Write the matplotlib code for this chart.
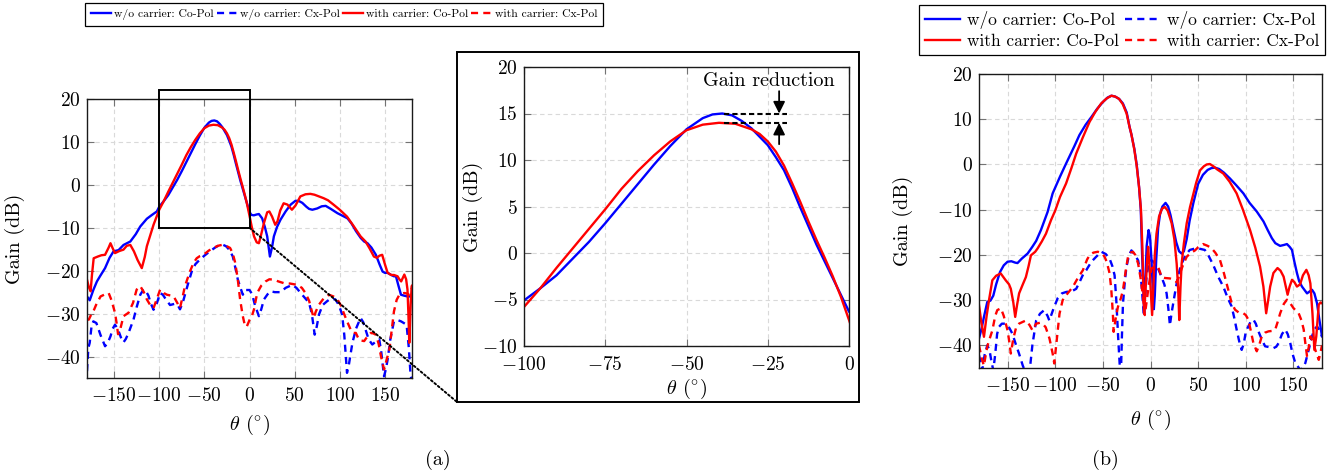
import numpy as np
import matplotlib
matplotlib.use("Agg")
import matplotlib.pyplot as plt
from matplotlib.patches import Rectangle, ConnectionPatch
from matplotlib.lines import Line2D

plt.rcParams["font.family"] = ["cmr10"]
plt.rcParams["mathtext.fontset"] = "cm"
plt.rcParams["axes.formatter.use_mathtext"] = True

# ---------------------------------------------------------------- data (a)
a_co_wo_theta = [-180, -177, -173, -169, -165.6, -160, -155, -150.6, -145, -139.5, -132, -126, -121,
                 -113.7, -108, -102.6, -100, -95, -90, -85, -80, -75, -70, -65, -60, -55, -50, -45,
                 -42, -39, -36, -33, -30, -27.5, -25, -22.5, -20, -17.5, -15, -12.5, -10, -7.5, -5,
                 -2.5, 0, 2, 4.8, 8, 10.4, 14, 17, 19.6, 22.6, 25, 27, 30.5, 34.4, 40, 45.6, 51, 55,
                 58.5, 63, 66, 69.6, 75, 80, 84.4, 90, 97.4, 103, 108.5, 113, 118, 123.3, 127, 130.7,
                 135, 140, 144, 147.4, 150, 153, 157, 160, 162.2, 165, 167.8, 171, 175, 180]
a_co_wo_gain = [-26.0, -26.9, -24.5, -22.5, -21.3, -19.4, -17.0, -15.5, -15.2, -14.0, -13.2, -11.5, -9.7,
                -7.9, -7.0, -6.2, -5.1, -3.8, -2.4, -0.6, 1.2, 3.2, 5.3, 7.4, 9.5, 11.5, 13.3, 14.5,
                14.9, 15.0, 14.8, 14.2, 13.4, 12.5, 11.6, 10.3, 8.9, 7.0, 4.9, 2.9, 0.9, -0.9, -2.7,
                -4.5, -6.3, -7.0, -7.1, -6.9, -6.8, -7.8, -9.8, -12.0, -16.7, -14.5, -12.0, -9.8, -8.1,
                -6.2, -4.6, -3.7, -3.8, -4.2, -5.1, -5.6, -5.8, -5.5, -5.0, -4.9, -5.6, -6.6, -7.2,
                -7.8, -9.0, -10.8, -12.4, -13.2, -13.6, -14.6, -16.3, -18.5, -20.2, -20.5, -20.5,
                -21.0, -21.3, -21.3, -23.5, -25.6, -25.8, -26.0, -26.0]

a_co_w_theta = [-180, -178, -176, -174.5, -172.6, -168, -164, -160, -156, -154, -151.5, -149, -144,
                -139.6, -136, -132, -128, -124, -119.3, -116, -113.7, -110, -106.3, -102.5, -100, -95,
                -90, -85, -80, -75, -70, -65, -60, -55, -50, -45, -40, -35, -30, -27.5, -25, -22.5,
                -20, -17.5, -15, -12.5, -10, -7.5, -5, -2.5, 0, 2.5, 5, 8, 10.4, 13, 16, 19.6, 22, 25,
                28.5, 31, 34, 37.8, 42, 47, 51, 56.3, 62, 67.4, 72, 77, 82, 87, 93, 100, 108, 115, 123,
                128.5, 133, 137.8, 141, 144, 147, 150, 153, 157, 160, 164, 166, 168, 171.5, 173.5, 175,
                176, 177, 178.5, 179.6, 180]
a_co_w_gain = [-22.1, -23.8, -24.8, -21.0, -17.1, -16.7, -16.4, -16.3, -14.6, -13.6, -14.8, -15.9, -15.4,
               -15.1, -14.2, -14.0, -15.5, -17.5, -19.4, -16.8, -14.3, -11.8, -9.3, -7.2, -5.8, -3.8,
               -1.6, 0.5, 2.6, 4.7, 6.9, 8.8, 10.5, 12.0, 13.2, 13.8, 14.0, 13.9, 13.3, 12.8, 12.0, 10.9,
               9.4, 7.5, 5.5, 3.4, 1.4, -0.5, -2.5, -4.7, -7.2, -9.8, -12.0, -13.4, -13.6, -11.5, -8.9,
               -6.4, -6.2, -7.4, -9.3, -8.5, -6.0, -4.3, -4.6, -5.8, -4.8, -2.7, -2.2, -2.1, -2.3, -2.7,
               -3.1, -3.6, -4.6, -5.8, -7.4, -9.5, -12.0, -13.2, -14.8, -16.7, -17.0, -16.5, -16.3,
               -18.5, -20.5, -21.0, -21.0, -21.3, -22.0, -22.5, -20.9, -22.0, -24.4, -30.0, -36.8,
               -28.0, -23.6, -23.5]

a_cx_wo_theta = [-180, -178.5, -177, -175, -173, -169.6, -165, -160, -157, -154, -151.5, -149, -146, -142,
                 -139.6, -137, -134, -128.5, -125, -121, -118, -115.7, -112, -109, -106.3, -102.5, -99,
                 -96, -93.5, -88, -82.6, -79, -77, -74, -71.5, -68, -64, -60, -55, -50, -44, -38, -33,
                 -29, -26, -22, -18.5, -15.5, -13, -10, -7.4, -5, 0, 3, 6, 10.4, 13, 16, 20, 23.3, 28,
                 34.4, 40, 47.4, 52, 56.7, 62, 66, 69, 72.2, 74.5, 77, 81, 86, 90, 95.2, 99, 102.6, 105,
                 108, 110, 114, 118, 123, 126, 128.5, 132, 136, 140, 143.7, 146, 149, 151, 153, 156, 160,
                 164, 167.8, 171, 174, 176.5, 178.5, 180]
a_cx_wo_gain = [-43.4, -38.0, -36.8, -33.0, -31.8, -32.2, -35.0, -37.6, -36.8, -35.3, -33.5, -32.6, -33.5,
                -35.8, -36.7, -35.9, -34.5, -31.4, -28.5, -25.6, -24.6, -24.4, -25.8, -27.8, -29.1,
                -27.5, -25.2, -25.6, -26.4, -28.0, -27.7, -28.2, -29.0, -27.5, -25.6, -23.0, -20.2,
                -18.5, -17.4, -16.5, -15.5, -14.6, -14.0, -14.0, -14.3, -15.2, -16.7, -19.5, -22.0,
                -24.0, -25.6, -24.5, -24.5, -25.5, -28.0, -30.6, -29.0, -26.7, -25.5, -24.8, -25.0,
                -25.0, -24.0, -23.3, -24.0, -25.2, -26.5, -27.5, -30.0, -34.9, -33.0, -30.2, -28.0,
                -27.1, -26.5, -26.7, -28.0, -30.2, -35.0, -43.8, -42.0, -36.8, -33.5, -31.0, -32.0,
                -33.7, -36.0, -37.2, -36.5, -36.0, -39.0, -44.6, -43.0, -40.7, -36.0, -31.8, -31.5,
                -31.8, -32.2, -32.6, -38.0, -44.6, -45.5]

a_cx_w_theta = [-180, -178, -176, -173, -170, -165, -160, -156, -153, -149, -147, -145.6, -143, -139.6,
                -134, -129, -125, -121, -117, -113.7, -110, -106.3, -102.5, -99, -95, -91.5, -87, -84,
                -80, -77, -74, -71.5, -66, -62, -58.5, -55, -51, -45, -40, -35, -30.7, -26, -21.5,
                -18.5, -15.9, -13, -10.4, -7.5, -5, -3, 0, 2.6, 5, 8.5, 13, 17.8, 22, 27, 32, 38, 45,
                53, 58, 62, 66, 68.5, 71, 73.5, 77, 82, 88, 93, 97.4, 101, 105, 108.5, 112, 115, 117.8,
                120, 122, 127, 130, 134.4, 137, 140, 143, 145.6, 149, 151, 155, 158, 160, 163, 166, 169,
                171.5, 174, 177, 180]
a_cx_w_gain = [-31.4, -31.4, -30.5, -29.5, -28.0, -26.0, -25.5, -25.2, -26.8, -29.8, -32.5, -34.8, -33.5,
               -30.6, -29.8, -27.5, -24.4, -23.6, -25.0, -26.7, -28.0, -28.7, -26.5, -24.4, -25.2,
               -25.6, -25.8, -26.0, -27.5, -28.7, -26.0, -23.6, -20.2, -18.2, -17.1, -16.6, -16.3,
               -15.3, -14.7, -14.2, -14.0, -14.2, -14.7, -16.0, -18.1, -22.0, -26.7, -30.5, -32.9,
               -33.0, -31.5, -30.6, -29.0, -25.2, -23.5, -22.5, -22.0, -22.1, -22.5, -22.9, -23.0,
               -23.3, -24.0, -25.2, -27.0, -29.0, -31.0, -29.5, -27.9, -26.5, -25.6, -26.0, -26.7,
               -28.0, -30.2, -32.0, -33.7, -34.5, -34.5, -35.5, -36.2, -36.4, -35.5, -34.5, -34.6,
               -34.9, -37.0, -39.9, -43.0, -41.5, -38.3, -33.0, -29.5, -26.8, -25.6, -25.3, -25.2,
               -25.3, -25.6, -24.0]

# ---------------------------------------------------------------- data (b)
b_co_wo_theta = [-180, -177, -174.8, -171.3, -168, -165, -162, -158, -154, -150, -146, -142, -139.6, -135,
                 -129, -124, -120, -115, -108, -102.7, -95, -88.6, -80, -74.6, -68, -62, -56, -50, -45,
                 -41, -37, -33, -29, -25, -22, -20, -17, -14.5, -12, -10.2, -8.8, -7.5, -6.7, -5.5, -4,
                 -2, -0.5, 1, 2.5, 3.5, 4.5, 6, 8, 10, 12.5, 15.8, 18.5, 21, 24, 27, 30, 32.7, 35, 38,
                 41, 45, 50, 55, 60, 64, 67.6, 72, 77, 83.4, 90, 97.5, 104, 111.5, 118.6, 123, 127.4,
                 131, 136, 140, 143.2, 146, 148.5, 151, 153.7, 156, 159, 164.3, 169.5, 172, 174.8, 177,
                 180]
b_co_wo_gain = [-38.5, -36.0, -33.7, -30.4, -30.1, -29.0, -26.5, -23.8, -22.3, -21.5, -21.4, -21.7, -21.8,
                -20.8, -19.7, -18.2, -16.9, -14.5, -10.5, -6.4, -2.7, 0.2, 4.0, 6.5, 8.8, 10.5, 12.3,
                13.8, 14.8, 15.2, 15.0, 14.5, 13.5, 11.5, 8.3, 6.6, 3.5, 0.0, -5.0, -10.0, -20.0, -27.0,
                -33.0, -26.0, -18.0, -14.5, -16.0, -21.0, -28.0, -32.0, -29.0, -21.0, -14.0, -11.0,
                -9.3, -8.5, -9.3, -11.2, -14.2, -17.2, -19.2, -19.7, -19.2, -16.5, -12.5, -8.5, -4.3,
                -2.3, -1.2, -0.8, -0.7, -1.0, -1.8, -3.1, -4.6, -6.4, -8.5, -10.4, -12.6, -14.5, -16.3,
                -17.4, -18.0, -17.8, -17.6, -18.2, -18.9, -21.5, -24.0, -25.8, -27.0, -28.5, -27.7,
                -28.5, -30.7, -34.0, -38.0]

b_co_w_theta = [-180, -177.5, -174.8, -172, -169.5, -166, -162, -157.2, -152, -148.5, -146.6, -144, -142,
                -140, -137.9, -134, -130.8, -128, -125.5, -121, -118.6, -114, -109.7, -104.4, -100, -95,
                -88.6, -83, -78, -71, -64, -58, -51.7, -46, -41, -37, -33, -29, -25, -22, -20, -17,
                -14.5, -12, -10, -8.6, -7.6, -6.7, -5, -3.5, -2.5, -1.2, 0, 1.7, 3, 4.5, 6.3, 9, 12,
                15.1, 18, 20, 22.2, 25, 27.5, 29.1, 30.2, 31.5, 32.7, 35, 38, 41.5, 45, 48, 52, 56, 59,
                62.3, 66, 70, 76.4, 83, 90.4, 97, 104.5, 110, 115, 118.5, 121.4, 123.5, 125.6, 129,
                133.3, 136.5, 139.7, 142, 143.9, 146, 148.5, 151, 153.7, 157, 160, 163.6, 166, 167.8,
                170, 172, 174, 176.6, 178.5, 180]
b_co_w_gain = [-31.1, -35.0, -38.1, -33.5, -30.0, -25.6, -24.6, -24.1, -25.6, -26.5, -27.5, -30.5, -33.7,
               -31.0, -28.5, -26.5, -24.9, -22.5, -20.1, -19.3, -18.6, -17.0, -15.3, -12.3, -10.2, -7.2,
               -4.2, -0.8, 2.4, 6.0, 9.4, 11.6, 13.5, 14.6, 15.2, 15.0, 14.5, 13.3, 11.2, 8.3, 6.6,
               3.3, -0.3, -5.0, -10.0, -18.0, -26.3, -33.0, -27.0, -21.0, -18.2, -22.0, -27.0, -33.3,
               -27.0, -20.0, -15.3, -11.5, -9.8, -9.4, -10.2, -11.5, -13.0, -16.5, -22.0, -27.8,
               -34.4, -27.0, -21.9, -17.5, -13.0, -9.4, -6.5, -4.0, -1.3, -0.4, 0.0, 0.1, -0.4, -1.1,
               -2.0, -3.8, -6.4, -10.0, -14.5, -18.4, -22.6, -27.0, -32.9, -30.0, -27.0, -24.0, -22.9,
               -23.5, -24.8, -27.0, -28.8, -27.0, -25.5, -26.0, -27.0, -26.5, -24.5, -23.3, -24.5,
               -26.3, -33.0, -41.0, -38.0, -31.0, -30.5, -30.7]

b_cx_wo_theta = [-180, -178, -176.6, -174, -171.3, -169, -167, -165, -163, -161, -159, -156, -152, -148,
                 -145, -141, -138, -134, -131, -127, -124, -120, -116, -111.5, -108, -106.2, -102,
                 -97.5, -93, -88.6, -84, -81.5, -78, -74, -70.5, -67.5, -62, -57, -51.7, -47, -43, -40,
                 -37.7, -35.9, -34, -32.4, -31, -30, -28.9, -27, -25.3, -22.5, -20, -17, -13, -11, -9.5,
                 -7.1, -5.5, -4.2, -2, -0.7, 2, 4.5, 8, 11.6, 14.5, 16.9, 18.8, 20.4, 22, 25.6, 29,
                 32.7, 37, 41.2, 48.2, 53, 57, 61, 65.8, 71, 76.4, 81, 85.2, 88, 90.4, 93, 95.7, 98,
                 100, 102.7, 105, 108, 110.5, 113.3, 117, 120.3, 125, 129.1, 132, 134.4, 138, 141.4,
                 144, 146.7, 149, 152, 157.2, 160, 162.5, 166, 169.5, 172, 174.8, 177, 180]
b_cx_wo_gain = [-42.2, -44.0, -45.5, -42.0, -40.0, -41.0, -43.5, -45.5, -42.0, -37.5, -35.9, -35.2, -35.2,
                -36.2, -37.4, -40.0, -41.8, -44.5, -46.0, -46.0, -40.0, -34.5, -33.0, -32.2, -33.5,
                -34.5, -32.0, -29.6, -28.5, -28.2, -28.0, -27.9, -27.5, -25.8, -24.2, -23.4, -21.5,
                -20.4, -19.3, -19.8, -20.8, -22.5, -24.5, -30.0, -38.0, -44.0, -46.0, -38.0, -30.8,
                -26.0, -22.7, -20.0, -19.0, -19.8, -21.2, -23.5, -26.3, -33.0, -29.0, -24.9, -22.0,
                -21.2, -21.3, -21.9, -23.0, -24.9, -26.5, -28.5, -32.0, -35.6, -33.0, -28.5, -24.5,
                -21.9, -20.0, -18.9, -18.5, -18.7, -18.9, -20.2, -22.2, -24.8, -27.0, -29.5, -31.4,
                -34.0, -36.5, -39.0, -41.0, -39.5, -37.0, -35.8, -34.8, -34.3, -35.2, -36.9, -38.8,
                -40.2, -40.4, -40.6, -40.3, -39.5, -37.5, -36.5, -37.5, -39.5, -41.8, -43.9, -45.4,
                -45.0, -43.9, -41.0, -38.0, -36.5, -35.8, -36.5, -38.0]

b_cx_w_theta = [-180, -177, -174.8, -172.5, -171, -168, -166, -163, -160.8, -157, -154, -150, -148,
                -146.6, -144, -141, -138, -134, -130.8, -127, -123.8, -120, -116, -113.3, -110, -106,
                -102.7, -101, -99, -95.5, -92.2, -87, -81.6, -76, -71, -66.5, -64, -60, -55.3, -51,
                -48.2, -46, -43, -41.2, -39.5, -38.7, -36.5, -34.2, -31, -28.9, -26, -23.6, -21, -18.4,
                -16, -13, -10.5, -7.8, -6, -4.5, -2.5, -0.5, 1.1, 4, 8, 10, 11.6, 15, 20.4, 24, 27.4,
                29, 30.9, 34, 38, 42, 46.7, 50, 55.3, 60, 64, 68, 72.9, 77, 81.6, 85, 88.7, 93, 97.5,
                100, 102.7, 105.5, 108, 111.5, 114, 116.8, 120, 123.8, 127.5, 130.9, 133.5, 136.1, 140,
                143.2, 147, 150.2, 155.5, 158.5, 160.8, 162.5, 164.3, 166, 167.8, 170, 173, 176.6,
                178.5, 180]
b_cx_w_gain = [-40.0, -43.0, -44.5, -41.5, -40.0, -38.0, -36.7, -33.5, -32.2, -31.8, -33.5, -36.7, -39.5,
               -41.8, -38.5, -36.0, -35.2, -34.8, -34.5, -35.5, -36.7, -35.2, -35.0, -35.2, -36.0,
               -38.5, -41.8, -44.0, -40.0, -33.0, -30.0, -28.5, -27.1, -25.0, -23.4, -21.0, -20.1,
               -19.5, -19.3, -19.6, -20.4, -21.5, -24.0, -27.5, -33.0, -37.0, -34.0, -31.5, -29.5,
               -27.8, -23.5, -20.4, -19.5, -19.3, -20.0, -21.9, -25.0, -29.3, -33.3, -31.0, -27.8,
               -25.0, -23.0, -22.6, -22.7, -23.8, -24.9, -25.1, -25.2, -25.5, -26.0, -25.3, -24.1,
               -22.3, -20.4, -19.6, -19.0, -18.3, -17.6, -18.0, -18.5, -19.5, -21.1, -24.0, -27.7,
               -30.5, -32.1, -32.8, -32.9, -33.3, -34.3, -37.0, -39.5, -41.3, -40.0, -38.0, -37.2,
               -36.9, -36.8, -36.5, -34.8, -32.9, -30.8, -29.9, -30.8, -31.8, -32.9, -34.5, -36.5,
               -39.5, -42.4, -40.5, -38.0, -39.0, -41.0, -43.2, -41.5, -40.0]

labels = ["w/o carrier: Co-Pol", "w/o carrier: Cx-Pol",
          "with carrier: Co-Pol", "with carrier: Cx-Pol"]

BLUE, RED = "#0000ff", "#ff0000"
LW = 1.7
DASH = (0, (3.0, 2.2))
TICK_FS = 14
LABEL_FS = 14.5

W, H = 1338, 476


def fig_rect(x0, y0, x1, y1):
    """pixel box (top-left origin) -> figure-fraction [l, b, w, h]"""
    return [x0 / W, 1 - y1 / H, (x1 - x0) / W, (y1 - y0) / H]


def style_axes(ax):
    ax.grid(True, color="0.85", linestyle=(0, (4, 3)), linewidth=0.8)
    ax.set_axisbelow(True)
    ax.tick_params(direction="in", length=5, width=0.8, color="0.45",
                   top=True, right=True, labelsize=TICK_FS)
    ax.tick_params(axis="x", pad=6.5)
    ax.tick_params(axis="y", pad=4.5)
    for s in ax.spines.values():
        s.set_linewidth(1.0)
        s.set_color("0.1")


def draw_curves(ax, data):
    for th, g, color, ls in data:
        ax.plot(th, g, color=color, lw=LW, linestyle=ls)


fig = plt.figure(figsize=(W / 100, H / 100), dpi=100)

data_a = [(a_co_wo_theta, a_co_wo_gain, BLUE, "-"),
          (a_cx_wo_theta, a_cx_wo_gain, BLUE, DASH),
          (a_co_w_theta, a_co_w_gain, RED, "-"),
          (a_cx_w_theta, a_cx_w_gain, RED, DASH)]
data_b = [(b_co_wo_theta, b_co_wo_gain, BLUE, "-"),
          (b_cx_wo_theta, b_cx_wo_gain, BLUE, DASH),
          (b_co_w_theta, b_co_w_gain, RED, "-"),
          (b_cx_w_theta, b_cx_w_gain, RED, DASH)]

# (a) full pattern
ax1 = fig.add_axes(fig_rect(87, 99, 412, 378))
draw_curves(ax1, data_a)
ax1.set_xlim(-180, 180)
ax1.set_ylim(-45, 20)
ax1.set_xticks([-150, -100, -50, 0, 50, 100, 150])
ax1.set_yticks([-40, -30, -20, -10, 0, 10, 20])
style_axes(ax1)
ax1.set_ylabel("Gain (dB)", fontsize=LABEL_FS)
ax1.set_xlabel(r"$\theta$ ($^{\circ}$)", fontsize=LABEL_FS)
ax1.yaxis.set_label_coords(-0.19, 0.5)
ax1.xaxis.set_label_coords(0.5, -0.125)
ax1.add_patch(Rectangle((-100, -10), 100, 32, fill=False, ec="k", lw=1.4, clip_on=False, zorder=5))

# (a) zoomed inset
ax2 = fig.add_axes(fig_rect(524, 67, 849, 346))
draw_curves(ax2, [d for d in data_a if d[3] == "-"])
ax2.set_xlim(-100, 0)
ax2.set_ylim(-10, 20)
ax2.set_xticks([-100, -75, -50, -25, 0])
ax2.set_yticks([-10, -5, 0, 5, 10, 15, 20])
style_axes(ax2)
ax2.tick_params(axis="x", pad=7.5)
ax2.set_ylabel("Gain (dB)", fontsize=LABEL_FS)
ax2.set_xlabel(r"$\theta$ ($^{\circ}$)", fontsize=LABEL_FS)
ax2.yaxis.set_label_coords(-0.126, 0.5)
ax2.xaxis.set_label_coords(0.5, -0.112)

peak_wo, peak_w = max(a_co_wo_gain), max(a_co_w_gain)
ax2.plot([-38.6, -19], [peak_wo, peak_wo], color="k", lw=1.5, linestyle=(0, (2.5, 1.5)))
ax2.plot([-38.6, -19], [peak_w, peak_w], color="k", lw=1.5, linestyle=(0, (2.5, 1.5)))
arrow = dict(arrowstyle="-|>,head_width=0.35,head_length=0.7", color="k", lw=1.3,
             shrinkA=0, shrinkB=0)
ax2.annotate("", xy=(-21.5, peak_wo), xytext=(-21.5, 17.4), arrowprops=arrow)
ax2.annotate("", xy=(-21.5, peak_w), xytext=(-21.5, 11.7), arrowprops=arrow)
ax2.text(-24.6, 18.5, "Gain reduction", ha="center", va="center", fontsize=LABEL_FS)

fig.add_artist(Rectangle((457 / W, 1 - 402 / H), (859 - 457) / W, (402 - 52) / H,
                         transform=fig.transFigure, fill=False, ec="k", lw=1.4))
for ya, yb in [(22, 52), (-10, 402)]:
    con = ConnectionPatch(xyA=(0, ya), coordsA="data", axesA=ax1,
                          xyB=(457 / W, 1 - yb / H), coordsB="figure fraction",
                          color="k", lw=1.4, linestyle=(0, (1, 1.3)))
    fig.add_artist(con)

# (b)
ax3 = fig.add_axes(fig_rect(979, 74, 1322, 368))
draw_curves(ax3, data_b)
ax3.set_xlim(-180, 180)
ax3.set_ylim(-45, 20)
ax3.set_xticks([-150, -100, -50, 0, 50, 100, 150])
ax3.set_yticks([-40, -30, -20, -10, 0, 10, 20])
style_axes(ax3)
ax3.set_ylabel("Gain (dB)", fontsize=LABEL_FS)
ax3.set_xlabel(r"$\theta$ ($^{\circ}$)", fontsize=LABEL_FS)
ax3.yaxis.set_label_coords(-0.192, 0.5)
ax3.xaxis.set_label_coords(0.5, -0.136)

# legends
handles = [Line2D([], [], color=BLUE, lw=LW),
           Line2D([], [], color=BLUE, lw=LW, linestyle=DASH),
           Line2D([], [], color=RED, lw=LW),
           Line2D([], [], color=RED, lw=LW, linestyle=DASH)]
leg_kw = dict(frameon=True, fancybox=False, edgecolor="k", framealpha=1, borderaxespad=0)
lg1 = fig.legend(handles, labels, ncol=4, loc="upper left", bbox_to_anchor=(85 / W, 1 - 3 / H),
                 fontsize=8.4, handlelength=1.7, handletextpad=0.3, columnspacing=0.25,
                 borderpad=0.5, **leg_kw)
lg1.get_frame().set_linewidth(0.9)
order = [0, 2, 1, 3]
lg2 = fig.legend([handles[i] for i in order], [labels[i] for i in order], ncol=2,
                 loc="upper right", bbox_to_anchor=(1325 / W, 1 - 5 / H),
                 fontsize=12.5, handlelength=2.0, handletextpad=0.4, columnspacing=0.35,
                 borderpad=0.35, labelspacing=0.25, **leg_kw)
lg2.get_frame().set_linewidth(0.9)

fig.text(438 / W, 1 - 460 / H, "(a)", ha="center", va="center", fontsize=LABEL_FS)
fig.text(1105 / W, 1 - 460 / H, "(b)", ha="center", va="center", fontsize=LABEL_FS)

fig.savefig("out.png", dpi=100)
